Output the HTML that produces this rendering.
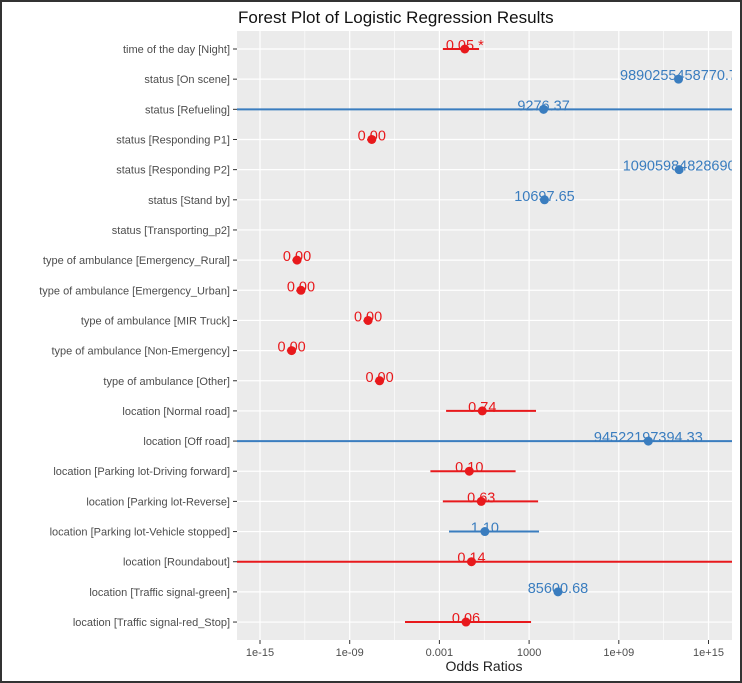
<!DOCTYPE html>
<html><head><meta charset="utf-8"><style>
html,body{margin:0;padding:0;background:#fff;}
svg{display:block;font-family:"Liberation Sans",Arial,sans-serif;}
</style></head><body>
<svg id="chart" width="742" height="683" viewBox="0 0 742 683">
<defs><clipPath id="pc"><rect x="237" y="31" width="495" height="609"/></clipPath></defs>
<rect x="1" y="1" width="740" height="681" fill="#fff" stroke="#333" stroke-width="2"/>
<text x="238" y="23" font-size="17" fill="#111">Forest Plot of Logistic Regression Results</text>
<rect x="237" y="31" width="495" height="609" fill="#ebebeb"/>
<g id="grid"></g><g id="marks" clip-path="url(#pc)"></g><g id="axes"></g>
<text x="484" y="671" font-size="14" fill="#222" text-anchor="middle">Odds Ratios</text>
</svg>
<script>
const categories = ["time of the day [Night]","status [On scene]","status [Refueling]","status [Responding P1]","status [Responding P2]","status [Stand by]","status [Transporting_p2]","type of ambulance [Emergency_Rural]","type of ambulance [Emergency_Urban]","type of ambulance [MIR Truck]","type of ambulance [Non-Emergency]","type of ambulance [Other]","location [Normal road]","location [Off road]","location [Parking lot-Driving forward]","location [Parking lot-Reverse]","location [Parking lot-Vehicle stopped]","location [Roundabout]","location [Traffic signal-green]","location [Traffic signal-red_Stop]"];
const oddsRatios = [0.05, 9890255458770.7, 9276.37, 3e-8, 10905984828690, 10697.65, null, 3e-13, 5.5e-13, 1.7e-8, 1.3e-13, 1e-7, 0.74, 94522197394.33, 0.10, 0.63, 1.10, 0.14, 85600.68, 0.06];
const ciLow = [0.0017, null, 0, null, null, null, null, null, null, null, null, null, 0.0028, 0, 0.00025, 0.0017, 0.0044, 0, null, 5e-6];
const ciHigh = [0.45, null, Infinity, null, null, null, null, null, null, null, null, null, 2900, Infinity, 125, 4000, 4600, Infinity, null, 1350];
const valueLabels = ["0.05 *","9890255458770.7","9276.37","0.00","10905984828690","10697.65","","0.00","0.00","0.00","0.00","0.00","0.74","94522197394.33","0.10","0.63","1.10","0.14","85600.68","0.06"];
const tickValues = [-15,-9,-3,3,9,15];
const tickLabels = ["1e-15","1e-09","0.001","1000","1e+09","1e+15"];

const NS="http://www.w3.org/2000/svg";
const PL=237, PR=732, PT=31, PB=640;
function xScale(v){ if(v<=0) return PL; if(!isFinite(v)) return PR; return Math.max(PL,Math.min(PR,260+(Math.log10(v)+15)*14.95)); }
function xLog(l){ return 260+(l+15)*14.95; }
function yScale(i){ return 49+i*30.16; }
function mk(tag,attrs,parent){const e=document.createElementNS(NS,tag);for(const k in attrs)e.setAttribute(k,attrs[k]);parent.appendChild(e);return e;}
const grid=document.getElementById('grid'), marks=document.getElementById('marks'), axes=document.getElementById('axes');

for(let t=0;t<tickValues.length;t++){
  const x=xLog(tickValues[t]);
  const g=mk('line',{x1:x,x2:x,y1:PT,y2:PB,stroke:'#fff','stroke-width':1.2},grid);
  
  
  const mx=xLog(tickValues[t]-3);
  if(mx>PL){const m=mk('line',{x1:mx,x2:mx,y1:PT,y2:PB,stroke:'#fff','stroke-width':0.6},grid);
    
    }
  const tk=mk('line',{x1:x,x2:x,y1:PB,y2:PB+4,stroke:'#333','stroke-width':1},axes);
  
  
  const tl=mk('text',{x:x,y:PB+16,'font-size':11,fill:'#4d4d4d','text-anchor':'middle'},axes);
  tl.textContent=tickLabels[t];
  
  
}
{const mx=xLog(18); if(mx<PR){const m=mk('line',{x1:mx,x2:mx,y1:PT,y2:PB,stroke:'#fff','stroke-width':0.6},grid);
 
 }}

for(let i=0;i<categories.length;i++){
  const y=yScale(i);
  const g=mk('line',{x1:PL,x2:PR,y1:y,y2:y,stroke:'#fff','stroke-width':1.2},grid);
  
  
  const tk=mk('line',{x1:PL-4,x2:PL,y1:y,y2:y,stroke:'#333','stroke-width':1},axes);
  
  
  const tl=mk('text',{x:PL-7,y:y+4,'font-size':11,fill:'#4d4d4d','text-anchor':'end'},axes);
  tl.textContent=categories[i];
  
  

  const v=oddsRatios[i];
  if(v===null) continue;
  const col = v<1 ? '#e8191c' : '#3a7dbf';
  if(ciLow[i]!==null){
    const ci=mk('line',{x1:xScale(ciLow[i]),x2:xScale(ciHigh[i]),y1:y,y2:y,stroke:col,'stroke-width':2},marks);
    
    
  }
  const x=xScale(v);
  const p=mk('circle',{cx:x,cy:y,r:4.5,fill:col},marks);
  
  
  const lb=mk('text',{x:x,y:y+1,'font-size':14.5,fill:col,'text-anchor':'middle'},marks);
  lb.textContent=valueLabels[i];
  
  
}
</script>
</body></html>
